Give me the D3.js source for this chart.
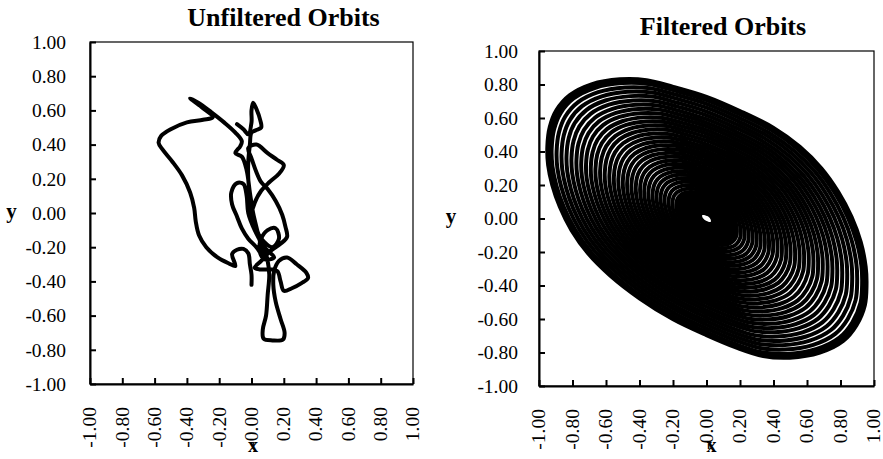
<!DOCTYPE html>
<html><head><meta charset="utf-8">
<script src="https://cdn.jsdelivr.net/npm/d3@7"></script>
<style>body{margin:0;background:#fff}svg{display:block}</style>
</head><body>
<svg id="chart" width="883" height="459"></svg>
<script>
// ---- data ----
const tickValues = [-1, -0.8, -0.6, -0.4, -0.2, 0, 0.2, 0.4, 0.6, 0.8, 1];
const xTickLabels = ["-1.00","-0.80","-0.60","-0.40","-0.20","-0.00","0.20","0.40","0.60","0.80","1.00"];
const yTickLabels = ["-1.00","-0.80","-0.60","-0.40","-0.20","0.00","0.20","0.40","0.60","0.80","1.00"];
const titles = ["Unfiltered Orbits", "Filtered Orbits"];

// unfiltered trajectory (x, y)
const unfilteredOrbit = [
[-0.09,0.52],[-0.05,0.49],[-0.02,0.46],[0.00,0.53],[0.00,0.60],[0.01,0.645],[0.03,0.61],[0.055,0.54],[0.06,0.50],[0.03,0.485],[0.00,0.47],
[-0.01,0.40],[-0.02,0.30],[-0.02,0.20],[-0.01,0.10],[0.00,0.02],[0.02,-0.06],[0.05,-0.14],[0.08,-0.21],[0.10,-0.28],[0.11,-0.36],
[0.10,-0.48],[0.09,-0.60],[0.07,-0.68],[0.075,-0.735],[0.13,-0.745],[0.195,-0.74],[0.205,-0.70],[0.18,-0.62],[0.15,-0.52],[0.135,-0.42],[0.14,-0.34],
[0.17,-0.28],[0.22,-0.26],[0.28,-0.30],[0.34,-0.35],[0.35,-0.38],[0.31,-0.41],[0.25,-0.44],[0.20,-0.455],[0.18,-0.40],[0.16,-0.34],[0.12,-0.33],[0.05,-0.33],[0.02,-0.32],
[0.06,-0.28],[0.12,-0.22],[0.18,-0.18],[0.22,-0.14],[0.21,-0.08],[0.19,-0.01],[0.15,0.07],[0.10,0.14],[0.06,0.18],[0.03,0.24],[0.00,0.32],[-0.02,0.38],
[0.03,0.40],[0.10,0.35],[0.16,0.31],[0.20,0.28],[0.17,0.23],[0.11,0.18],[0.06,0.13],[0.02,0.06],[0.00,-0.02],[0.03,-0.10],[0.08,-0.17],[0.13,-0.20],[0.17,-0.15],[0.15,-0.09],[0.10,-0.10],[0.06,-0.15],[0.05,-0.22],[0.08,-0.27],[0.14,-0.26],
[0.08,-0.20],[0.02,-0.10],[-0.02,0.00],[-0.03,0.10],[-0.05,0.17],[-0.09,0.175],[-0.125,0.12],[-0.12,0.05],[-0.09,-0.02],[-0.06,-0.09],[-0.02,-0.15],[0.03,-0.20],[0.07,-0.25],
[0.04,-0.12],[0.01,0.00],[-0.01,0.12],[-0.03,0.25],[-0.06,0.33],[-0.10,0.35],[-0.07,0.39],[-0.06,0.42],[-0.10,0.47],[-0.17,0.53],[-0.25,0.59],[-0.33,0.645],[-0.38,0.67],
[-0.31,0.62],[-0.24,0.56],[-0.30,0.545],[-0.40,0.53],[-0.50,0.49],[-0.56,0.45],[-0.575,0.41],[-0.55,0.37],[-0.49,0.30],[-0.43,0.22],[-0.38,0.12],[-0.355,0.03],[-0.345,-0.05],[-0.325,-0.13],[-0.28,-0.20],[-0.21,-0.26],[-0.14,-0.295],[-0.10,-0.31],[-0.12,-0.24],[-0.09,-0.215],[-0.05,-0.21],[-0.02,-0.235],[-0.01,-0.30],[0.00,-0.36],[0.00,-0.42]
];

// filtered orbit: outermost turn (x, y)
const filteredOuterTurn = [
[-0.52,0.835],[-0.36,0.83],[-0.20,0.79],[0.00,0.73],[0.20,0.645],[0.40,0.545],[0.56,0.43],[0.69,0.30],[0.79,0.16],[0.87,0.01],[0.925,-0.14],[0.955,-0.29],[0.96,-0.40],[0.95,-0.52],[0.90,-0.64],[0.82,-0.735],[0.68,-0.805],[0.50,-0.835],[0.34,-0.825],[0.18,-0.775],[0.00,-0.70],[-0.20,-0.605],[-0.40,-0.48],[-0.58,-0.34],[-0.71,-0.21],[-0.81,-0.07],[-0.88,0.07],[-0.925,0.20],[-0.95,0.32],[-0.955,0.43],[-0.94,0.55],[-0.90,0.65],[-0.82,0.74],[-0.69,0.805]
];
// relative size of each successive turn of the damped spiral (read from the ring gaps)
const filteredTurnScale = [
0.995,0.986,0.977,0.968,0.937,0.906,0.875,0.844,0.813,0.783,0.753,0.723,0.694,0.665,0.636,0.607,0.579,0.551,0.523,0.496,0.469,0.442,0.415,0.389,0.363,0.337,0.312,0.287,0.262,0.237,0.213,0.189,
0.172,0.158,0.145,0.132,0.120,0.109,0.098,0.088,0.079,0.071,0.063,0.056,0.050,0.045,0.040
];

// ---- layout ----
const svg = d3.select("#chart");
const FONT = "'Liberation Serif', 'Times New Roman', Times, serif";
const panels = [
  {x0:90, x1:413, y0:42, y1:384, pad:24, titleX:283.5, titleY:25.5, yLabX:11.5, yLabY:218, xLabX:253, xLabY:452},
  {x0:539, x1:874, y0:51, y1:386, pad:21, titleX:723, titleY:35, yLabX:451, yLabY:223, xLabX:711.5, xLabY:452}
];

panels.forEach((p, idx) => {
  const x = d3.scaleLinear().domain([-1, 1]).range([p.x0, p.x1]);
  const y = d3.scaleLinear().domain([-1, 1]).range([p.y1, p.y0]);
  const g = svg.append("g");

  // frame
  g.append("rect").attr("x", p.x0).attr("y", p.y0)
    .attr("width", p.x1 - p.x0).attr("height", p.y1 - p.y0)
    .attr("fill", "none").attr("stroke", "#000").attr("stroke-width", 1.2);

  // data
  if (idx === 0) {
    const line = d3.line().x(d => x(d[0])).y(d => y(d[1])).curve(d3.curveCatmullRom.alpha(0.5));
    g.append("path").datum(unfilteredOrbit).attr("d", line)
      .attr("fill", "none").attr("stroke", "#000").attr("stroke-width", 4)
      .attr("stroke-linejoin", "round").attr("stroke-linecap", "round");
  } else {
    const ring = d3.line().x(d => x(d[0])).y(d => y(d[1])).curve(d3.curveCatmullRomClosed.alpha(0.5));
    g.selectAll("path.turn").data(filteredTurnScale).join("path")
      .attr("class", "turn")
      .attr("d", k => ring(filteredOuterTurn.map(pt => [pt[0] * k, pt[1] * k])))
      .attr("fill", "none").attr("stroke", "#000").attr("stroke-width", 4);
  }

  // y axis
  const ya = d3.axisLeft(y).tickValues(tickValues).tickSize(-6).tickSizeOuter(0)
    .tickPadding(p.pad).tickFormat((d, i) => yTickLabels[i]);
  const yg = g.append("g").attr("transform", `translate(${p.x0},0)`).call(ya)
    .attr("font-family", null).attr("font-size", null);
  yg.select(".domain").attr("stroke-width", 2);
  yg.selectAll(".tick line").attr("stroke-width", 2);
  yg.selectAll("text").style("font-family", FONT).style("font-size", "19.5px").attr("fill", "#000")
    .attr("x", -p.pad);

  // x axis
  const xa = d3.axisBottom(x).tickValues(tickValues).tickSize(-6).tickSizeOuter(0)
    .tickFormat((d, i) => xTickLabels[i]);
  const xg = g.append("g").attr("transform", `translate(0,${p.y1})`).call(xa)
    .attr("font-family", null).attr("font-size", null);
  xg.select(".domain").attr("stroke-width", 2);
  xg.selectAll(".tick line").attr("stroke-width", 2);
  xg.selectAll("text").style("font-family", FONT).style("font-size", "19.5px").attr("fill", "#000")
    .attr("transform", "rotate(-90)").attr("text-anchor", "end")
    .attr("x", -23).attr("y", 0).attr("dy", "0.3em");

  // titles and axis names
  g.append("text").attr("x", p.titleX).attr("y", p.titleY).attr("text-anchor", "middle")
    .style("font-family", FONT).style("font-weight", "bold").style("font-size", "26px").text(titles[idx]);
  g.append("text").attr("x", p.yLabX).attr("y", p.yLabY).attr("text-anchor", "middle")
    .style("font-family", FONT).style("font-weight", "bold").style("font-size", "21px").text("y");
  g.append("text").attr("x", p.xLabX).attr("y", p.xLabY).attr("text-anchor", "middle")
    .style("font-family", FONT).style("font-weight", "bold").style("font-size", "20px").text("x");
});
</script>
</body></html>
